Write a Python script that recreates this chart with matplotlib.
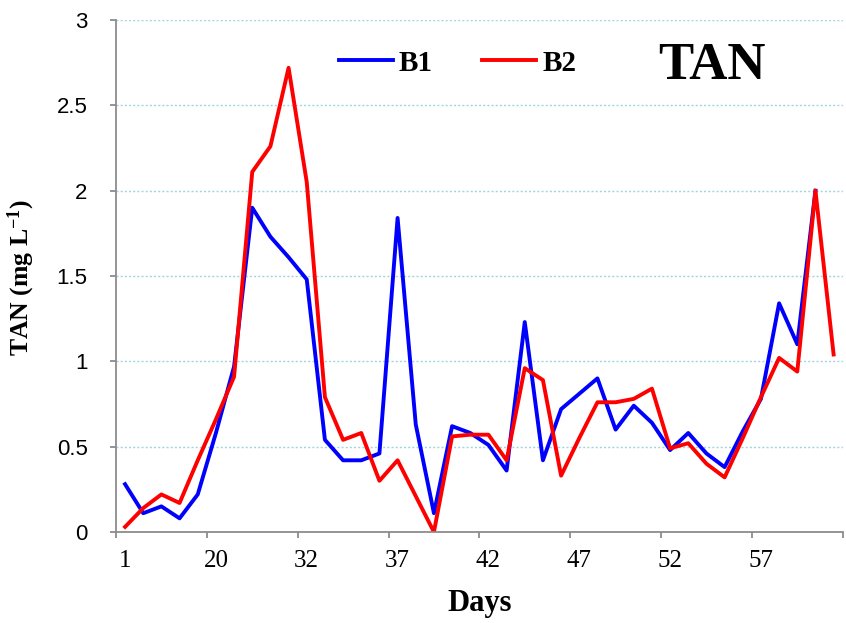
import numpy as np
import matplotlib
matplotlib.use('Agg')
import matplotlib.pyplot as plt

# TAN values per sampling day (category axis)
day_labels = ['1', '20', '32', '37', '42', '47', '52', '57']
b1 = [0.28, 0.11, 0.15, 0.08, 0.22, 0.58, 0.97, 1.90, 1.73, 1.61,
      1.48, 0.54, 0.42, 0.42, 0.46, 1.84, 0.63, 0.11, 0.62, 0.58,
      0.51, 0.36, 1.23, 0.42, 0.72, 0.81, 0.90, 0.60, 0.74, 0.64,
      0.48, 0.58, 0.46, 0.38, 0.59, 0.78, 1.34, 1.10, 2.00, np.nan]
b2 = [0.03, 0.14, 0.22, 0.17, 0.42, 0.66, 0.91, 2.11, 2.26, 2.72,
      2.05, 0.79, 0.54, 0.58, 0.30, 0.42, 0.21, 0.00, 0.56, 0.57,
      0.57, 0.42, 0.96, 0.89, 0.33, 0.55, 0.76, 0.76, 0.78, 0.84,
      0.49, 0.52, 0.40, 0.32, 0.55, 0.79, 1.02, 0.94, 2.00, 1.04]
y_ticks = [0, 0.5, 1, 1.5, 2, 2.5, 3]

plt.rcParams['mathtext.default'] = 'regular'
serif = 'Liberation Serif'
sans = 'Liberation Sans'
grey = '#8c8c8c'

fig = plt.figure(figsize=(8.46, 6.23), dpi=100)
ax = fig.add_axes([0.1371, 0.1461, 0.859, 0.8218])

x = np.arange(len(b1))
ax.plot(x, b1, color='#0000ff', lw=2.8, label='B1')
ax.plot(x, b2, color='#ff0000', lw=2.8, label='B2')

ax.set_xlim(-0.5, len(b1) - 0.5)
ax.set_ylim(0, 3)

# labels every 5th category, tick marks between categories
ax.set_xticks(np.arange(0, 5 * len(day_labels), 5))
ax.set_xticklabels(day_labels, fontfamily=serif, fontsize=18)
ax.set_xticks(np.arange(-0.5, len(b1), 5), minor=True)
ax.tick_params(axis='x', which='major', length=0, pad=13)
ax.tick_params(axis='x', which='minor', length=4.5, width=1.3, color=grey)

ax.set_yticks(y_ticks)
ax.set_yticklabels([f'{v:g}' for v in y_ticks], fontfamily=sans, fontsize=16)
ax.tick_params(axis='y', length=4, width=1.3, color=grey, pad=16.5)

for s in ['top', 'right']:
    ax.spines[s].set_visible(False)
for s in ['left', 'bottom']:
    ax.spines[s].set_color(grey)
    ax.spines[s].set_linewidth(1.3)

ax.yaxis.grid(True, linestyle=(0, (1.5, 1.5)), color='#9fd6df', lw=1.0)
ax.set_axisbelow(True)

ax.set_xlabel('Days', fontfamily=serif, fontweight='bold', fontsize=22)
ax.xaxis.set_label_coords(0.5, -0.112)
ax.set_ylabel('TAN (mg L$^{-1}$)', fontfamily=serif, fontweight='bold', fontsize=18.5)
ax.yaxis.set_label_coords(-0.109, 0.496)

leg = ax.legend(loc='center', bbox_to_anchor=(0.47, 0.916), ncol=2, frameon=False,
                handlelength=1.85, handletextpad=0.2, columnspacing=1.7,
                prop={'family': serif, 'weight': 'bold', 'size': 21})

ax.text(0.82, 0.91, 'TAN', transform=ax.transAxes, ha='center', va='center',
        fontfamily=serif, fontweight='bold', fontsize=38)

plt.savefig('out.png', dpi=100)
